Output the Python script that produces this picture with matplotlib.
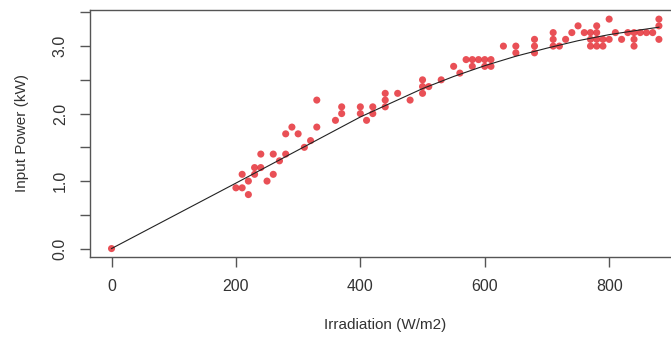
import matplotlib
matplotlib.use("Agg")
import matplotlib.pyplot as plt

plt.rcParams["font.family"] = ["Liberation Sans", "DejaVu Sans"]

# measured points: irradiation (W/m2) and input power (kW)
irradiation = [
    0,
    200, 210, 210, 220, 220, 230, 230, 240, 240, 250, 260, 260, 270, 280, 280,
    290, 300, 310, 320, 330, 330, 360, 370, 370, 400, 400, 410, 420, 420,
    440, 440, 440, 460, 480, 500, 500, 500, 510, 530, 550, 560, 570, 580,
    580, 590, 600, 600, 610, 610, 630, 650, 650, 680, 680, 680, 710, 710,
    710, 720, 730, 740, 750, 760, 770, 770, 770, 780, 780, 780, 780, 790,
    790, 800, 800, 810, 820, 830, 840, 840, 840, 850, 860, 870, 880, 880, 880,
]
power = [
    0.0,
    0.9, 0.9, 1.1, 0.8, 1.0, 1.1, 1.2, 1.2, 1.4, 1.0, 1.1, 1.4, 1.3, 1.4, 1.7,
    1.8, 1.7, 1.5, 1.6, 1.8, 2.2, 1.9, 2.0, 2.1, 2.0, 2.1, 1.9, 2.0, 2.1,
    2.1, 2.2, 2.3, 2.3, 2.2, 2.3, 2.4, 2.5, 2.4, 2.5, 2.7, 2.6, 2.8, 2.8,
    2.7, 2.8, 2.8, 2.7, 2.8, 2.7, 3.0, 3.0, 2.9, 3.1, 3.0, 2.9, 3.2, 3.1,
    3.0, 3.0, 3.1, 3.2, 3.3, 3.2, 3.2, 3.1, 3.0, 3.3, 3.2, 3.1, 3.0, 3.1,
    3.0, 3.4, 3.1, 3.2, 3.1, 3.2, 3.2, 3.1, 3.0, 3.2, 3.2, 3.2, 3.4, 3.3, 3.1,
]

# fitted curve
fit_x = [0, 200, 300, 400, 450, 500, 550, 600, 650, 700, 750, 800, 850, 880]
fit_y = [0.0, 0.97, 1.46, 1.95, 2.16, 2.37, 2.55, 2.71, 2.85, 2.97, 3.08,
         3.17, 3.24, 3.28]

x_ticks = [0, 200, 400, 600, 800]
y_ticks = [0.0, 0.5, 1.0, 1.5, 2.0, 2.5, 3.0, 3.5]
y_labels = ["0.0", "", "1.0", "", "2.0", "", "3.0", ""]

fig = plt.figure(figsize=(6.71, 3.38), dpi=100, facecolor="w")
ax = fig.add_axes([90 / 671, 81 / 338, 591 / 671, 247 / 338])

ax.scatter(irradiation, power, s=26, color="#e6383f", alpha=0.88,
           edgecolors="none", zorder=2)
ax.plot(fit_x, fit_y, color="#222222", linewidth=0.8, zorder=3)

ax.set_xlim(-34.6, 915.5)
ax.set_ylim(-0.125, 3.535)
ax.set_xticks(x_ticks)
ax.set_yticks(y_ticks)
ax.set_yticklabels(y_labels, rotation=90, va="center")

for spine in ax.spines.values():
    spine.set_color("#555555")
    spine.set_linewidth(1.0)

ax.tick_params(axis="both", direction="out", length=7, width=1.0,
               color="#555555", labelcolor="#333333", labelsize=11.5, pad=9)

ax.set_xlabel("Irradiation (W/m2)", fontsize=11, color="#333333")
ax.set_ylabel("Input Power (kW)", fontsize=11, color="#333333")
ax.xaxis.set_label_coords(0.5, -0.245)
ax.yaxis.set_label_coords(-0.103, 0.5)

fig.savefig("out.png", dpi=100)
